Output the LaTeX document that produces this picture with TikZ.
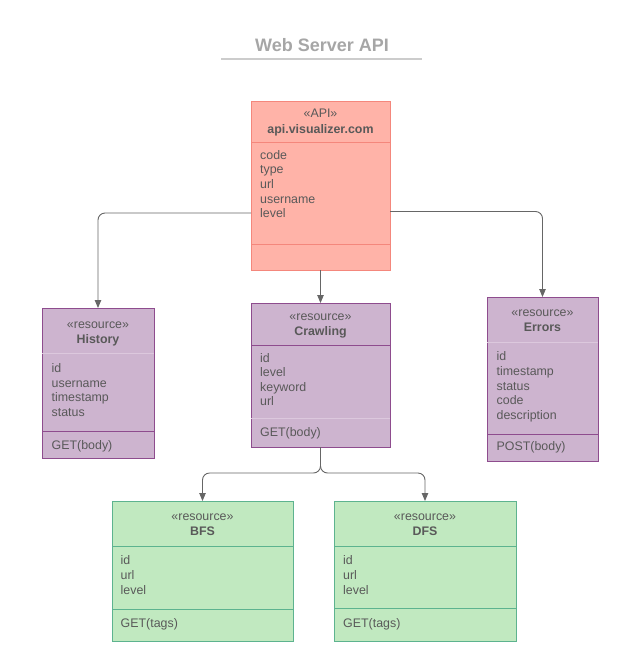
\documentclass[tikz,border=0pt]{standalone}
\usepackage{fontspec}
\setmainfont{Liberation Sans}
\usetikzlibrary{arrows.meta}
\definecolor{txtc}{HTML}{595959}
\definecolor{titlec}{HTML}{A6A6A6}
\definecolor{rulec}{HTML}{CCCCCC}
\definecolor{arrc}{HTML}{666666}
\definecolor{apifill}{HTML}{FFB3A8}
\definecolor{apidraw}{HTML}{F4877C}
\definecolor{pfill}{HTML}{CDB4CF}
\definecolor{pdraw}{HTML}{8E4C8E}
\definecolor{plight}{HTML}{DCC8DD}
\definecolor{gfill}{HTML}{C1E9C0}
\definecolor{gdraw}{HTML}{5DB38F}
\begin{document}
\begin{tikzpicture}[x=1pt,y=-1pt,
  umlbox/.style={rectangle, inner sep=0pt, outer sep=0pt, anchor=north west, line width=1pt},
  apibox/.style={umlbox, fill=apifill, draw=apidraw},
  pbox/.style={umlbox, fill=pfill, draw=pdraw},
  gbox/.style={umlbox, fill=gfill, draw=gdraw},
  hdr/.style={anchor=base, inner sep=0pt, text=txtc, font=\fontsize{12.4}{14}\selectfont},
  hdrb/.style={anchor=base, inner sep=0pt, text=txtc, font=\fontsize{12.4}{14}\selectfont\bfseries},
  fld/.style={anchor=base west, inner sep=0pt, text=txtc, font=\fontsize{12.4}{14}\selectfont},
  divline/.style={line width=0.8pt},
  arr/.style={draw=arrc, line width=0.9pt, rounded corners=7pt, -{Triangle[length=8pt,width=6.5pt]}},
]
\useasboundingbox (0,0) rectangle (621,657);

% title
\node[anchor=base, inner sep=0pt, text=titlec, font=\fontsize{18}{20}\selectfont\bfseries] (title) at (322,51) {Web Server API};
\draw[rulec, line width=2pt] (221,59) -- (422,59);

% API box
\node[apibox, minimum width=139pt, minimum height=169pt] (api) at (251,101) {};
\draw[divline, apidraw] (api.west |- 0,142) -- (api.east |- 0,142);
\draw[divline, apidraw] (api.west |- 0,244) -- (api.east |- 0,244);
\node[hdr] (api-s) at (320.5,117) {«API»};
\node[hdrb] (api-n) at (320.5,133.5) {api.visualizer.com};
\foreach \t [count=\i] in {code,type,url,username,level}
  \node[fld] (api-f\i) at (260,{159+14.7*(\i-1)}) {\t};

% History
\node[pbox, minimum width=112pt, minimum height=150pt] (hist) at (42,308) {};
\draw[divline, plight] (hist.west |- 0,353) -- (hist.east |- 0,353);
\draw[divline, pdraw] (hist.west |- 0,431) -- (hist.east |- 0,431);
\node[hdr] (hist-s) at (98,328) {«resource»};
\node[hdrb] (hist-n) at (98,343) {History};
\foreach \t [count=\i] in {id,username,timestamp,status}
  \node[fld] (hist-f\i) at (51.5,{372.5+14.6*(\i-1)}) {\t};
\node[fld] (hist-m) at (51.5,449) {GET(body)};

% Crawling
\node[pbox, minimum width=139pt, minimum height=144pt] (crawl) at (251,303) {};
\draw[divline, pdraw] (crawl.west |- 0,345) -- (crawl.east |- 0,345);
\draw[divline, plight] (crawl.west |- 0,418) -- (crawl.east |- 0,418);
\node[hdr] (crawl-s) at (320.5,320.5) {«resource»};
\node[hdrb] (crawl-n) at (320.5,335) {Crawling};
\foreach \t [count=\i] in {id,level,keyword,url}
  \node[fld] (crawl-f\i) at (260,{362+14.6*(\i-1)}) {\t};
\node[fld] (crawl-m) at (260,436) {GET(body)};

% Errors
\node[pbox, minimum width=111pt, minimum height=164pt] (err) at (487,297) {};
\draw[divline, plight] (err.west |- 0,342) -- (err.east |- 0,342);
\draw[divline, pdraw] (err.west |- 0,434) -- (err.east |- 0,434);
\node[hdr] (err-s) at (542.5,316) {«resource»};
\node[hdrb] (err-n) at (542.5,331) {Errors};
\foreach \t [count=\i] in {id,timestamp,status,code,description}
  \node[fld] (err-f\i) at (496.5,{360.5+14.8*(\i-1)}) {\t};
\node[fld] (err-m) at (496.5,450.5) {POST(body)};

% BFS
\node[gbox, minimum width=181pt, minimum height=140pt] (bfs) at (112,501) {};
\draw[divline, gdraw] (bfs.west |- 0,546) -- (bfs.east |- 0,546);
\draw[divline, gdraw] (bfs.west |- 0,609) -- (bfs.east |- 0,609);
\node[hdr] (bfs-s) at (202.5,520) {«resource»};
\node[hdrb] (bfs-n) at (202.5,535) {BFS};
\foreach \t [count=\i] in {id,url,level}
  \node[fld] (bfs-f\i) at (120.5,{564.5+14.8*(\i-1)}) {\t};
\node[fld] (bfs-m) at (120.5,627) {GET(tags)};

% DFS
\node[gbox, minimum width=182pt, minimum height=140pt] (dfs) at (334,501) {};
\draw[divline, gdraw] (dfs.west |- 0,546) -- (dfs.east |- 0,546);
\draw[divline, gdraw] (dfs.west |- 0,608) -- (dfs.east |- 0,608);
\node[hdr] (dfs-s) at (425,520) {«resource»};
\node[hdrb] (dfs-n) at (425,535) {DFS};
\foreach \t [count=\i] in {id,url,level}
  \node[fld] (dfs-f\i) at (343,{564.5+14.8*(\i-1)}) {\t};
\node[fld] (dfs-m) at (343,627) {GET(tags)};

% connectors
\draw[arr] ([yshift=-27.5pt]api.west) -| (hist.north);
\draw[arr] ([yshift=-26pt]api.east) -| (err.north);
\draw[arr] (api.south) -- (crawl.north);
\draw[arr] (crawl.south) |- ([yshift=28pt]bfs.north) -- (bfs.north);
\draw[arr] (crawl.south) |- ([yshift=28pt]dfs.north) -- (dfs.north);
\end{tikzpicture}
\end{document}
